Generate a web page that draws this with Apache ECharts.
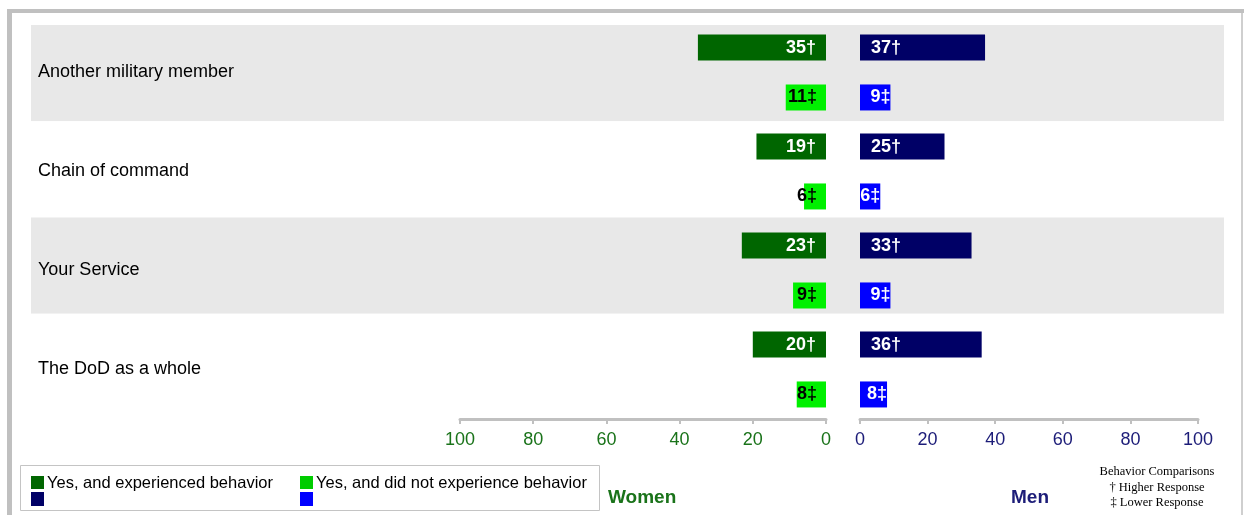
<!DOCTYPE html>
<html>
<head>
<meta charset="utf-8">
<script src="https://cdn.jsdelivr.net/npm/echarts@6/dist/echarts.min.js"></script>
<style>
  html, body { margin: 0; padding: 0; background: #fff; }
  #main { width: 1244px; height: 515px; }
</style>
</head>
<body>
<div id="main"></div>
<script>
// row labels, top to bottom
var categories = ['Another military member', 'Chain of command', 'Your Service', 'The DoD as a whole'];

// percentages
var womenExperienced = [35, 19, 23, 20];
var womenNotExperienced = [11, 6, 9, 8];
var menExperienced = [37, 25, 33, 36];
var menNotExperienced = [9, 6, 9, 8];

// comparison marks after each value
var womenExperiencedMark = ['†', '†', '†', '†'];
var womenNotExperiencedMark = ['‡', '‡', '‡', '‡'];
var menExperiencedMark = ['†', '†', '†', '†'];
var menNotExperiencedMark = ['‡', '‡', '‡', '‡'];

var tickValues = [0, 20, 40, 60, 80, 100];
var legendNames = ['Yes, and experienced behavior', 'Yes, and did not experience behavior'];

var FONT = 'Arial, "Liberation Sans", sans-serif';
var SERIF = '"Liberation Serif", "Times New Roman", serif';
var GREEN = '#1a731a';
var NAVY = '#1c1c78';

function markFormatter(marks) {
    return function (p) { return p.value + marks[p.dataIndex]; };
}

function barSeries(name, idx, data, marks, color, labelColor, pos, dist) {
    return {
        name: name,
        type: 'bar',
        xAxisIndex: idx,
        yAxisIndex: idx,
        data: data,
        barWidth: 26,
        barGap: '92%',
        itemStyle: { color: color },
        label: {
            show: true,
            position: pos,
            distance: dist,
            color: labelColor,
            fontFamily: FONT,
            fontWeight: 'bold',
            fontSize: 18,
            formatter: markFormatter(marks)
        },
        silent: true
    };
}

function valueAxis(idx, inverse, color) {
    return {
        gridIndex: idx,
        type: 'value',
        min: 0,
        max: 100,
        interval: 20,
        inverse: inverse,
        axisLine: { show: true, lineStyle: { color: '#c0c0c0', width: 3 } },
        axisTick: { show: true, length: 5, lineStyle: { color: '#c0c0c0', width: 2 } },
        axisLabel: { color: color, fontFamily: FONT, fontSize: 18, margin: 12,
            formatter: function (v) { return tickValues.indexOf(v) >= 0 ? v : ''; } },
        splitLine: { show: false }
    };
}

var chart = echarts.init(document.getElementById('main'));

var legendG = [
    { type: 'rect', shape: { x: 20.5, y: 465.5, width: 579, height: 45 },
      style: { fill: '#fff', stroke: '#c4c4c4', lineWidth: 1 } },
    { type: 'rect', shape: { x: 31, y: 476, width: 13, height: 13 }, style: { fill: '#006600' } },
    { type: 'rect', shape: { x: 31, y: 492, width: 13, height: 14 }, style: { fill: '#000066' } },
    { type: 'rect', shape: { x: 300, y: 476, width: 13, height: 13 }, style: { fill: '#00cc00' } },
    { type: 'rect', shape: { x: 300, y: 492, width: 13, height: 14 }, style: { fill: '#0000ff' } },
    { type: 'text', x: 47, y: 483, style: { text: legendNames[0], font: '16.5px ' + FONT, fill: '#000', textVerticalAlign: 'middle' } },
    { type: 'text', x: 316, y: 483, style: { text: legendNames[1], font: '16.5px ' + FONT, fill: '#000', textVerticalAlign: 'middle' } }
];

var frameG = [
    { type: 'rect', shape: { x: 7, y: 9, width: 1237, height: 4 }, style: { fill: '#c0c0c0' } },
    { type: 'rect', shape: { x: 7, y: 9, width: 5, height: 506 }, style: { fill: '#c0c0c0' } },
    { type: 'rect', shape: { x: 1241, y: 13, width: 2, height: 502 }, style: { fill: '#cfcfcf' } }
];

var textG = [
    { type: 'text', x: 608, y: 498, style: { text: 'Women', font: 'bold 19px ' + FONT, fill: GREEN, textVerticalAlign: 'middle' } },
    { type: 'text', x: 1011, y: 498, style: { text: 'Men', font: 'bold 19px ' + FONT, fill: NAVY, textVerticalAlign: 'middle' } },
    { type: 'text', x: 1157, y: 472, style: { text: 'Behavior Comparisons', font: '12.5px ' + SERIF, fill: '#000', textAlign: 'center', textVerticalAlign: 'middle' } },
    { type: 'text', x: 1157, y: 488, style: { text: '† Higher Response', font: '12.5px ' + SERIF, fill: '#000', textAlign: 'center', textVerticalAlign: 'middle' } },
    { type: 'text', x: 1157, y: 503, style: { text: '‡ Lower Response', font: '12.5px ' + SERIF, fill: '#000', textAlign: 'center', textVerticalAlign: 'middle' } }
];

chart.setOption({
    animation: false,
    backgroundColor: '#fff',
    grid: [
        // shaded row bands
        { left: 31, right: 20, top: 25, bottom: 105 },
        // women
        { left: 460, width: 366, top: 23, height: 396 },
        // men
        { left: 860, width: 338, top: 23, height: 396 }
    ],
    xAxis: [
        { gridIndex: 0, type: 'value', show: false, min: 0, max: 1 },
        valueAxis(1, true, GREEN),
        valueAxis(2, false, NAVY)
    ],
    yAxis: [
        { gridIndex: 0, type: 'category', data: categories, inverse: true,
          axisLine: { show: false }, axisTick: { show: false }, axisLabel: { show: false },
          splitArea: { show: true, areaStyle: { color: ['#e8e8e8', '#ffffff'] } } },
        { gridIndex: 1, type: 'category', data: categories, inverse: true,
          axisLine: { show: false }, axisTick: { show: false },
          axisLabel: { align: 'left', margin: 422, color: '#000', fontFamily: FONT, fontSize: 18 } },
        { gridIndex: 2, type: 'category', data: categories, inverse: true,
          axisLine: { show: false }, axisTick: { show: false }, axisLabel: { show: false } }
    ],
    series: [
        barSeries('Women experienced', 1, womenExperienced, womenExperiencedMark, '#006600', '#fff', 'insideRight', 10),
        barSeries('Women not experienced', 1, womenNotExperienced, womenNotExperiencedMark, '#00f000', '#000', 'insideRight', 9),
        barSeries('Men experienced', 2, menExperienced, menExperiencedMark, '#000066', '#fff', 'insideLeft', 11),
        barSeries('Men not experienced', 2, menNotExperienced, menNotExperiencedMark, '#0000ff', '#fff', 'insideRight', 0)
    ],
    graphic: frameG.concat(legendG, textG)
});
</script>
</body>
</html>
